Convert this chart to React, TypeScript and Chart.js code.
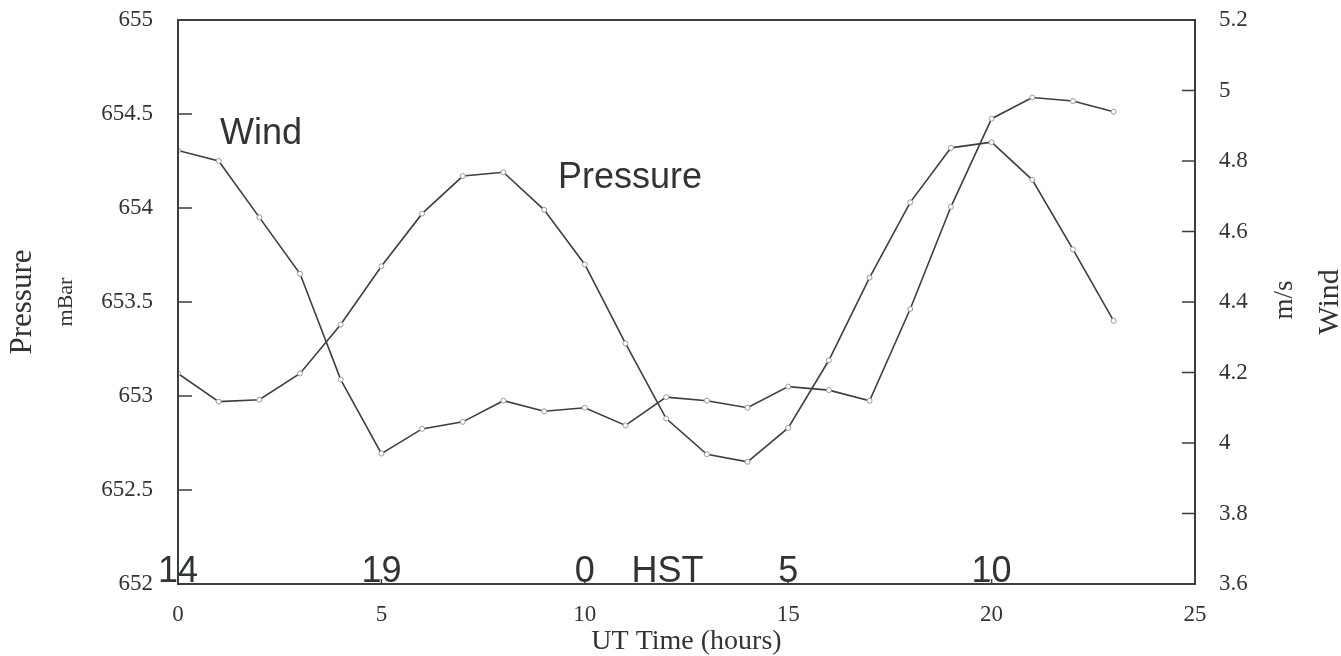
import { useEffect, useRef } from 'react';
import { Chart, registerables } from 'chart.js';

Chart.register(...registerables);

// Hourly means, UT hour 0..23
const utHours = [0, 1, 2, 3, 4, 5, 6, 7, 8, 9, 10, 11, 12, 13, 14, 15, 16, 17, 18, 19, 20, 21, 22, 23];
const pressureMbar = [
  653.12, 652.97, 652.98, 653.12, 653.38, 653.69, 653.97, 654.17, 654.19, 653.99, 653.7, 653.28,
  652.88, 652.69, 652.65, 652.83, 653.19, 653.63, 654.03, 654.32, 654.35, 654.15, 653.78, 653.4,
];
const windSpeed = [
  4.83, 4.8, 4.64, 4.48, 4.18, 3.97, 4.04, 4.06, 4.12, 4.09, 4.1, 4.05,
  4.13, 4.12, 4.1, 4.16, 4.15, 4.12, 4.38, 4.67, 4.92, 4.98, 4.97, 4.94,
];

// Axis ticks
const timeTicks = [0, 5, 10, 15, 20, 25];
const pressureTicks = [652, 652.5, 653, 653.5, 654, 654.5, 655];
const windTicks = [3.6, 3.8, 4, 4.2, 4.4, 4.6, 4.8, 5, 5.2];

// Local (HST) hour markers along the time axis
const hstLabels = ['14', '19', '0', '5', '10'];
const hstAtUt = [0, 5, 10, 15, 20];

const INK = '#303532';
const SERIF = '"Liberation Serif", "DejaVu Serif", serif';
const SANS = '"Liberation Sans", Arial, sans-serif';

const fmt = (v: number) => String(Number(v.toFixed(2)));

const framePlugin = {
  id: 'frameAndNotes',
  afterDraw(chart: any) {
    const { ctx, chartArea: a, scales } = chart;
    const xs = scales.x;
    const yp = scales.y;
    const yw = scales.y1;
    ctx.save();

    // plot frame
    ctx.strokeStyle = '#3a3f3c';
    ctx.lineWidth = 2;
    ctx.strokeRect(a.left, a.top, a.right - a.left, a.bottom - a.top);

    // inward tick marks
    ctx.lineWidth = 1.5;
    ctx.beginPath();
    pressureTicks.forEach((v) => {
      const y = yp.getPixelForValue(v);
      ctx.moveTo(a.left, y);
      ctx.lineTo(a.left + 14, y);
    });
    windTicks.forEach((v) => {
      const y = yw.getPixelForValue(v);
      ctx.moveTo(a.right, y);
      ctx.lineTo(a.right - 13, y);
    });
    timeTicks.forEach((v) => {
      const x = xs.getPixelForValue(v);
      ctx.moveTo(x, a.bottom);
      ctx.lineTo(x, a.bottom - 5);
    });
    ctx.stroke();

    ctx.fillStyle = INK;

    // axis titles
    const vText = (text: string, font: string, baseX: number, cy: number) => {
      ctx.save();
      ctx.translate(baseX, cy);
      ctx.rotate(-Math.PI / 2);
      ctx.font = font;
      ctx.textAlign = 'center';
      ctx.textBaseline = 'alphabetic';
      ctx.fillText(text, 0, 0);
      ctx.restore();
    };
    const midY = (a.top + a.bottom) / 2;
    vText('Pressure', `31px ${SERIF}`, 31, midY);
    vText('mBar', `22px ${SERIF}`, 72, midY);
    vText('m/s', `27px ${SERIF}`, 1292, midY - 2);
    vText('Wind', `30px ${SERIF}`, 1338, midY);

    ctx.font = `28px ${SERIF}`;
    ctx.textAlign = 'center';
    ctx.textBaseline = 'alphabetic';
    ctx.fillText('UT Time (hours)', (a.left + a.right) / 2, 649);

    // series labels and local-time markers
    ctx.font = `36px ${SANS}`;
    ctx.textAlign = 'left';
    ctx.fillText('Wind', xs.getPixelForValue(1.03), yp.getPixelForValue(654.34));
    ctx.fillText('Pressure', xs.getPixelForValue(9.34), yp.getPixelForValue(654.106));

    ctx.textAlign = 'center';
    hstLabels.forEach((t, i) => {
      ctx.fillText(t, xs.getPixelForValue(hstAtUt[i]), a.bottom - 2);
    });
    ctx.textAlign = 'left';
    ctx.fillText('HST', xs.getPixelForValue(11.15), a.bottom - 2);

    ctx.restore();
  },
};

export default function App() {
  const ref = useRef<HTMLCanvasElement | null>(null);

  useEffect(() => {
    if (!ref.current) return;
    const lineStyle = {
      borderColor: '#3b3f3d',
      borderWidth: 1.6,
      tension: 0,
      pointRadius: 2.5,
      pointBorderWidth: 1,
      pointBorderColor: '#9a9a9a',
      pointBackgroundColor: '#ffffff',
      fill: false,
    };
    const chart = new Chart(ref.current, {
      type: 'line',
      data: {
        datasets: [
          {
            label: 'Pressure',
            data: utHours.map((h, i) => ({ x: h, y: pressureMbar[i] })),
            yAxisID: 'y',
            ...lineStyle,
          },
          {
            label: 'Wind',
            data: utHours.map((h, i) => ({ x: h, y: windSpeed[i] })),
            yAxisID: 'y1',
            ...lineStyle,
          },
        ],
      },
      options: {
        responsive: false,
        animation: false,
        devicePixelRatio: 1,
        layout: { padding: { top: 20, left: 0, right: 0, bottom: 0 } },
        plugins: {
          legend: { display: false },
          title: { display: false },
          tooltip: { enabled: false },
        },
        scales: {
          x: {
            type: 'linear',
            min: 0,
            max: 25,
            grid: { display: false, drawTicks: false, tickLength: 0 },
            border: { display: false },
            afterBuildTicks: (s: any) => {
              s.ticks = timeTicks.map((v) => ({ value: v }));
            },
            afterFit: (s: any) => {
              s.height = 72;
              s.paddingLeft = 0;
              s.paddingRight = 0;
            },
            ticks: {
              padding: 17,
              maxRotation: 0,
              autoSkip: false,
              color: INK,
              font: { family: SERIF, size: 23 },
              callback: (v: any) => fmt(Number(v)),
            },
          },
          y: {
            type: 'linear',
            position: 'left',
            min: 652,
            max: 655,
            grid: { display: false, drawTicks: false, tickLength: 0 },
            border: { display: false },
            afterBuildTicks: (s: any) => {
              s.ticks = pressureTicks.map((v) => ({ value: v }));
            },
            afterFit: (s: any) => {
              s.width = 178;
              s.paddingTop = 0;
              s.paddingBottom = 0;
            },
            ticks: {
              padding: 25,
              autoSkip: false,
              color: INK,
              font: { family: SERIF, size: 23 },
              callback: (v: any) => fmt(Number(v)),
            },
          },
          y1: {
            type: 'linear',
            position: 'right',
            min: 3.6,
            max: 5.2,
            grid: { display: false, drawTicks: false, tickLength: 0, drawOnChartArea: false },
            border: { display: false },
            afterBuildTicks: (s: any) => {
              s.ticks = windTicks.map((v) => ({ value: v }));
            },
            afterFit: (s: any) => {
              s.width = 146;
              s.paddingTop = 0;
              s.paddingBottom = 0;
            },
            ticks: {
              padding: 24,
              autoSkip: false,
              color: INK,
              font: { family: SERIF, size: 23 },
              callback: (v: any) => fmt(Number(v)),
            },
          },
        },
      },
      plugins: [framePlugin],
    });
    return () => chart.destroy();
  }, []);

  return (
    <div style={{ position: 'absolute', left: 0, top: 0, width: 1341, height: 656, background: '#fff' }}>
      <canvas ref={ref} width={1341} height={656} />
    </div>
  );
}
